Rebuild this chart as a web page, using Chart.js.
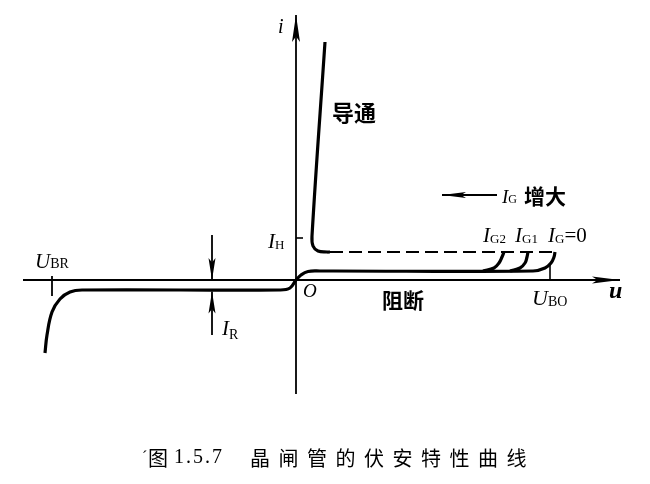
<!DOCTYPE html>
<html>
<head>
<meta charset="utf-8">
<script src="https://cdn.jsdelivr.net/npm/chart.js@4.4.0/dist/chart.umd.min.js"></script>
<style>
  html, body { margin: 0; padding: 0; background: #fff; }
  #wrap { width: 650px; height: 484px; }
</style>
</head>
<body>
<div id="wrap"><canvas id="ivChart" width="650" height="484"></canvas></div>
<script>
/************************************************************
    DATA  (u = voltage, i = current, arbitrary units)
*************************************************************/
// reverse blocking + forward blocking with I_G = 0
var mainU = [-25.1, -24.9, -24.4, -23.6, -22.6, -21.4, -1.6, -0.6, 0, 0.5, 1.2, 2.4, 23.7, 24.9, 25.5, 25.8, 25.9];
var mainI = [-7.3, -5.5, -3.2, -1.9, -1.2, -1.0, -1.0, -0.8, 0, 0.5, 0.85, 0.9, 0.9, 1.2, 1.7, 2.3, 2.8];
// forward breakover with gate current I_G2 and I_G1
var g2U = [18.7, 19.8, 20.3, 20.6, 20.8];
var g2I = [0.9, 1.2, 1.7, 2.3, 2.8];
var g1U = [21.4, 22.4, 22.9, 23.1, 23.2];
var g1I = [0.9, 1.2, 1.7, 2.3, 2.8];
// on-state (导通)
var onU = [2.9, 1.6, 1.7, 2.2, 3.1, 3.4];
var onI = [23.8, 4.4, 3.4, 2.9, 2.8, 2.8];
// jump from breakover to on-state (dashed)
var jumpU = [3.4, 25.9];
var jumpI = [2.8, 2.8];

// axes
var uAxisU = [-27.3, 32.4], uAxisI = [0, 0];
var iAxisU = [0, 0],        iAxisI = [-11.4, 26.5];

// marks: I_H, U_BR, U_BO
var ihTickU = [0, 0.7],       ihTickI = [4.2, 4.2];
var ubrTickU = [-24.4, -24.4], ubrTickI = [0.4, -1.6];
var uboTickU = [25.4, 25.4],   uboTickI = [1.5, 0];

// I_R arrows and "I_G 增大" arrow
var irTopU = [-8.4, -8.4], irTopI = [4.5, 0];
var irBotU = [-8.4, -8.4], irBotI = [-5.5, -1.15];
var igArrowU = [20.1, 14.6], igArrowI = [8.5, 8.5];

function pts(us, is) {
    return us.map(function (u, k) { return { x: u, y: is[k] }; });
}

function line(data, width, extra) {
    var ds = {
        data: data,
        showLine: true,
        borderColor: '#000',
        backgroundColor: '#000',
        borderWidth: width,
        pointRadius: 0,
        fill: false,
        tension: 0
    };
    for (var k in extra) ds[k] = extra[k];
    return ds;
}

/* ------------------
  text labels
-------------------*/
var SERIF = "'Liberation Serif', 'DejaVu Serif', serif";
var CJK = "'Noto Sans CJK SC', sans-serif";

var labels = [
    { u: -1.8, i: 24.7, parts: [['i', 'italic 20px ' + SERIF, 0]] },
    { u: -2.8, i: 3.2, parts: [['I', 'italic 21px ' + SERIF, 0], ['H', '13px ' + SERIF, 1]] },
    { u: -26.1, i: 1.2, parts: [['U', 'italic 21px ' + SERIF, 0], ['BR', '14px ' + SERIF, 0]] },
    { u: 0.7, i: -1.7, parts: [['O', 'italic 19px ' + SERIF, 0]] },
    { u: -7.4, i: -5.5, parts: [['I', 'italic 21px ' + SERIF, 0], ['R', '14px ' + SERIF, 4]] },
    { u: 3.6, i: 15.9, parts: [['导通', 'bold 22px ' + CJK, 0]] },
    { u: 8.6, i: -2.8, parts: [['阻断', 'bold 21px ' + CJK, 0]] },
    { u: 23.6, i: -2.5, parts: [['U', 'italic 22px ' + SERIF, 0], ['BO', '14px ' + SERIF, 1]] },
    { u: 31.3, i: -1.8, parts: [['u', 'bold italic 24px ' + SERIF, 0]] },
    { u: 20.6, i: 7.7, parts: [['I', 'italic 19px ' + SERIF, 0], ['G', '12px ' + SERIF, 0], ['增大', 'bold 21px ' + CJK, 1, 7]] },
    { u: 18.7, i: 3.8, parts: [['I', 'italic 21px ' + SERIF, 0], ['G2', '13px ' + SERIF, 1]] },
    { u: 21.9, i: 3.8, parts: [['I', 'italic 21px ' + SERIF, 0], ['G1', '13px ' + SERIF, 1]] },
    { u: 25.2, i: 3.8, parts: [['I', 'italic 21px ' + SERIF, 0], ['G', '13px ' + SERIF, 1], ['=0', '21px ' + SERIF, 0]] }
];

var caption = [
    ['\u00B4', '16px ' + SERIF, 142, 0],
    ['图', '20px ' + CJK, 148, 0],
    ['1.5.7', '20px ' + SERIF, 174, 2],
    ['晶闸管的伏安特性曲线', '20px ' + CJK, 250, 8.5]
];

/************************************************************
    Plugin: arrowheads, labels, caption
*************************************************************/
var decorations = {
    id: 'decorations',
    afterDatasetsDraw: function (chart) {
        var ctx = chart.ctx, xs = chart.scales.x, ys = chart.scales.y;

        chart.data.datasets.forEach(function (ds) {
            if (!ds.arrow) return;
            var n = ds.data.length, a = ds.data[n - 2], b = ds.data[n - 1];
            var x1 = xs.getPixelForValue(a.x), y1 = ys.getPixelForValue(a.y);
            var x2 = xs.getPixelForValue(b.x), y2 = ys.getPixelForValue(b.y);
            ctx.save();
            ctx.translate(x2, y2);
            ctx.rotate(Math.atan2(y2 - y1, x2 - x1));
            ctx.beginPath();
            ctx.moveTo(0, 0);
            ctx.lineTo(-ds.arrow.len, -ds.arrow.half);
            ctx.lineTo(-ds.arrow.len * 0.8, 0);
            ctx.lineTo(-ds.arrow.len, ds.arrow.half);
            ctx.closePath();
            ctx.fillStyle = '#000';
            ctx.fill();
            ctx.restore();
        });

        ctx.save();
        ctx.fillStyle = '#000';
        ctx.textBaseline = 'alphabetic';
        labels.forEach(function (lb) {
            var x = xs.getPixelForValue(lb.u), y = ys.getPixelForValue(lb.i);
            lb.parts.forEach(function (p) {
                x += p[3] || 0;
                ctx.font = p[1];
                ctx.fillText(p[0], x, y + p[2]);
                x += ctx.measureText(p[0]).width;
            });
        });

        ctx.textBaseline = 'middle';
        caption.forEach(function (c) {
            ctx.font = c[1];
            ctx.letterSpacing = c[3] + 'px';
            ctx.fillText(c[0], c[2], 458);
        });
        ctx.restore();
    }
};

/************************************************************
    Chart
*************************************************************/
var ivChart = new Chart(document.getElementById('ivChart'), {
    type: 'scatter',
    data: {
        datasets: [
            line(pts(uAxisU, uAxisI), 1.8, { arrow: { len: 28, half: 3.5 } }),
            line(pts(iAxisU, iAxisI), 1.8, { arrow: { len: 27, half: 4 } }),
            line(pts(mainU, mainI), 3.2, { tension: 0.4 }),
            line(pts(g2U, g2I), 3.2, { tension: 0.4 }),
            line(pts(g1U, g1I), 3.2, { tension: 0.4 }),
            line(pts(onU, onI), 3.2, { tension: 0.4 }),
            line(pts(jumpU, jumpI), 2.2, { borderDash: [13, 6] }),
            line(pts(ihTickU, ihTickI), 1.6),
            line(pts(ubrTickU, ubrTickI), 1.8),
            line(pts(uboTickU, uboTickI), 1.6),
            line(pts(irTopU, irTopI), 1.8, { arrow: { len: 22, half: 3.5 } }),
            line(pts(irBotU, irBotI), 1.8, { arrow: { len: 22, half: 3.5 } }),
            line(pts(igArrowU, igArrowI), 1.8, { arrow: { len: 24, half: 3 } })
        ]
    },
    options: {
        responsive: false,
        devicePixelRatio: 1,
        animation: false,
        layout: { padding: 0 },
        plugins: { legend: { display: false }, tooltip: { enabled: false }, title: { display: false } },
        scales: {
            x: { type: 'linear', min: -29.6, max: 35.4, display: false },
            y: { type: 'linear', min: -20.4, max: 28.0, display: false }
        }
    },
    plugins: [decorations]
});
</script>
</body>
</html>
